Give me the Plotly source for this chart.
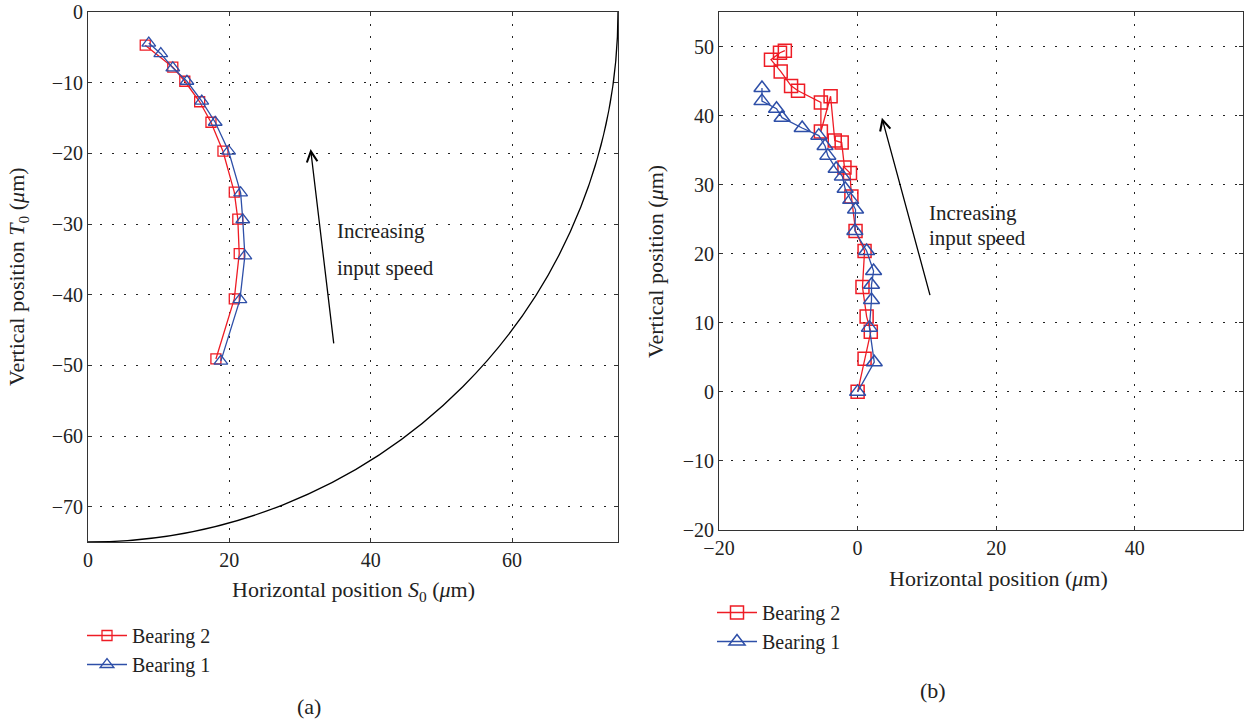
import plotly.graph_objects as go

W, H = 1245, 719

# ---- panel (a): shaft centre positions, S0/T0 frame (micrometres) ----
a_b2_x = [8.1, 12.0, 13.7, 15.8, 17.4, 19.1, 20.7, 21.2, 21.4, 20.7, 18.1]
a_b2_y = [-4.7, -7.8, -9.8, -12.7, -15.6, -19.7, -25.5, -29.3, -34.2, -40.6, -49.1]
a_b1_x = [8.6, 10.3, 12.0, 14.0, 16.1, 18.0, 19.9, 21.6, 21.9, 22.2, 21.5, 18.8]
a_b1_y = [-4.4, -5.9, -7.9, -9.8, -12.6, -15.6, -19.7, -25.6, -29.4, -34.5, -40.7, -49.4]
clearance_radius = 75

# ---- panel (b): shaft centre positions, horizontal/vertical frame ----
b_b2_x = [0.0, 1.0, 1.9, 1.3, 0.7, 1.0, -0.3, -0.9, -1.1, -1.9, -2.3, -3.3, -3.9,
          -5.3, -5.3, -8.6, -9.6, -11.1, -12.5, -11.2, -10.5]
b_b2_y = [0.0, 4.8, 8.7, 10.9, 15.2, 20.4, 23.3, 28.3, 31.7, 32.5, 36.1, 36.4, 42.8,
          37.7, 41.9, 43.6, 44.3, 46.4, 48.1, 49.1, 49.4]
b_b1_x = [0.0, 2.4, 1.7, 2.0, 2.0, 2.3, 1.3, -0.4, -0.3, -1.0, -1.8, -2.2, -3.1,
          -4.3, -4.7, -5.6, -8.0, -10.9, -11.7, -13.8, -13.8]
b_b1_y = [0.0, 4.3, 9.3, 13.3, 15.5, 17.5, 20.4, 23.3, 26.4, 27.8, 29.4, 31.2, 32.3,
          34.2, 35.6, 37.1, 38.2, 39.7, 41.0, 42.1, 44.0]

a_xticks = [0, 20, 40, 60]
a_yticks = [0, -10, -20, -30, -40, -50, -60, -70]
b_xticks = [-20, 0, 20, 40]
b_yticks = [-20, -10, 0, 10, 20, 30, 40, 50]

RED = "#ee1c25"
BLUE = "#2e4fa8"
INK = "#222222"
FONT = "Liberation Serif"
FS = 20        # tick labels, legend
FS_TITLE = 22  # axis titles
FS_NOTE = 21   # in-plot notes


def px(x):
    return x / W


def py(y):
    return 1 - y / H


fig = go.Figure()

fig.add_trace(go.Scatter(
    x=a_b2_x, y=a_b2_y, mode="lines+markers", name="Bearing 2",
    line=dict(color=RED, width=1.3),
    marker=dict(symbol="square-open", size=10, color=RED, line=dict(width=1.3)),
    xaxis="x", yaxis="y", legend="legend"))
fig.add_trace(go.Scatter(
    x=a_b1_x, y=a_b1_y, mode="lines+markers", name="Bearing 1",
    line=dict(color=BLUE, width=1.3),
    marker=dict(symbol="triangle-up-open", size=12, color=BLUE, line=dict(width=1.3)),
    xaxis="x", yaxis="y", legend="legend"))
fig.add_trace(go.Scatter(
    x=b_b2_x, y=b_b2_y, mode="lines+markers", name="Bearing 2",
    line=dict(color=RED, width=1.3),
    marker=dict(symbol="square-open", size=13, color=RED, line=dict(width=1.5)),
    xaxis="x2", yaxis="y2", legend="legend2"))
fig.add_trace(go.Scatter(
    x=b_b1_x, y=b_b1_y, mode="lines+markers", name="Bearing 1",
    line=dict(color=BLUE, width=1.3),
    marker=dict(symbol="triangle-up-open", size=14, color=BLUE, line=dict(width=1.5)),
    xaxis="x2", yaxis="y2", legend="legend2"))

# clearance circle boundary (clipped to the axes)
fig.add_shape(type="circle", xref="x", yref="y",
              x0=-clearance_radius, y0=-clearance_radius,
              x1=clearance_radius, y1=clearance_radius,
              line=dict(color="black", width=1.3))

axis_common = dict(
    automargin=False,
    showline=True, linecolor="#333333", linewidth=1, mirror="ticks",
    ticks="inside", ticklen=4, tickcolor="#333333",
    showgrid=True, gridcolor=INK, gridwidth=1, griddash="2px,10px",
    zeroline=False, tickfont=dict(family=FONT, size=FS, color=INK),
)

legend_common = dict(xanchor="left", yanchor="top", bgcolor="rgba(0,0,0,0)",
                     font=dict(family=FONT, size=FS, color=INK),
                     tracegroupgap=0, itemwidth=40)

fig.update_layout(
    template="none",
    width=W, height=H, margin=dict(l=0, r=0, t=0, b=0, autoexpand=False),
    paper_bgcolor="white", plot_bgcolor="white",
    font=dict(family=FONT, size=FS, color=INK),
    xaxis=dict(domain=[px(88), px(618)], range=[0, 75], tickvals=a_xticks,
               anchor="y", **axis_common),
    yaxis=dict(domain=[py(542), py(12)], range=[-75, 0], tickvals=a_yticks,
               anchor="x", **axis_common),
    xaxis2=dict(domain=[px(719), px(1243)], range=[-20, 55.6], tickvals=b_xticks,
                anchor="y2", **axis_common),
    yaxis2=dict(domain=[py(530), py(12)], range=[-20, 55], tickvals=b_yticks,
                anchor="x2", **axis_common),
    legend=dict(x=px(82), y=py(616), **legend_common),
    legend2=dict(x=px(712), y=py(593), **legend_common),
)

title_font = dict(family=FONT, size=FS_TITLE, color=INK)
note_font = dict(family=FONT, size=FS_NOTE, color=INK)

anns = []
# axis titles
anns.append(dict(text="Horizontal position <i>S</i><sub>0</sub> (<i>μ</i>m)",
                 x=px(353), y=py(591), xref="paper", yref="paper", font=title_font,
                 showarrow=False, xanchor="center", yanchor="middle"))
anns.append(dict(text="Vertical position <i>T</i><sub>0</sub> (<i>μ</i>m)",
                 x=px(18), y=py(277), xref="paper", yref="paper", textangle=-90,
                 font=title_font, showarrow=False, xanchor="center", yanchor="middle"))
anns.append(dict(text="Horizontal position (<i>μ</i>m)",
                 x=px(998), y=py(578), xref="paper", yref="paper", font=title_font,
                 showarrow=False, xanchor="center", yanchor="middle"))
anns.append(dict(text="Vertical position (<i>μ</i>m)",
                 x=px(655), y=py(262), xref="paper", yref="paper", textangle=-90,
                 font=title_font, showarrow=False, xanchor="center", yanchor="middle"))
# panel labels
anns.append(dict(text="(a)", x=px(309), y=py(706), xref="paper", yref="paper",
                 font=title_font, showarrow=False, xanchor="center", yanchor="middle"))
anns.append(dict(text="(b)", x=px(933), y=py(690), xref="paper", yref="paper",
                 font=title_font, showarrow=False, xanchor="center", yanchor="middle"))

# speed arrows and labels
anns.append(dict(x=31.5, y=-19.4, ax=34.8, ay=-47.1, xref="x", yref="y",
                 axref="x", ayref="y", text="", showarrow=True,
                 arrowhead=5, arrowsize=1.6, arrowwidth=1.3, arrowcolor="black"))
anns.append(dict(text="Increasing", x=34.9, y=-31.0, xref="x", yref="y",
                 font=note_font, showarrow=False, xanchor="left", yanchor="middle"))
anns.append(dict(text="input speed", x=34.9, y=-36.2, xref="x", yref="y",
                 font=note_font, showarrow=False, xanchor="left", yanchor="middle"))
anns.append(dict(x=3.5, y=39.7, ax=10.5, ay=13.8, xref="x2", yref="y2",
                 axref="x2", ayref="y2", text="", showarrow=True,
                 arrowhead=5, arrowsize=1.6, arrowwidth=1.3, arrowcolor="black"))
anns.append(dict(text="Increasing", x=10.0, y=25.9, xref="x2", yref="y2",
                 font=note_font, showarrow=False, xanchor="left", yanchor="middle"))
anns.append(dict(text="input speed", x=10.0, y=22.3, xref="x2", yref="y2",
                 font=note_font, showarrow=False, xanchor="left", yanchor="middle"))

fig.update_layout(annotations=anns)

fig.write_html("out.html")
